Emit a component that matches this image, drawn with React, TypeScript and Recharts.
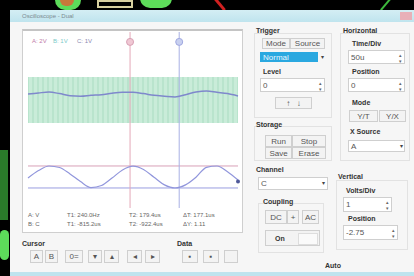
import {
  ComposedChart,
  Area,
  Line,
  XAxis,
  YAxis,
  ReferenceLine,
  ReferenceDot,
} from "recharts";

// time axis in µs (10 div x 50u), volts on a -4..4 scale
const times = [0, 25, 50, 75, 100, 125, 150, 175, 200, 225, 250, 275, 300, 325, 350, 375, 400, 425, 450, 475, 500];
const traceA = [1.18, 1.23, 1.27, 1.2, 1.1, 1.08, 1.12, 1.15, 1.22, 1.26, 1.26, 1.2, 1.12, 1.08, 1.05, 1.15, 1.27, 1.32, 1.26, 1.2, 1.09];
const traceB = [-2.64, -2.3, -2.09, -2.16, -2.45, -2.8, -3.07, -2.98, -2.64, -2.27, -2.1, -2.25, -2.6, -2.95, -3.09, -2.95, -2.6, -2.15, -2.09, -2.35, -2.73];
const bandLow = -0.14;
const bandHigh = 1.95;
const cursors = [243, 360];
const levels = [-2.09, -3.09];
const legend = ["A: 2V", "B: 1V", "C: 1V"];
const readRow1 = ["A: V", "T1: 240.0Hz", "T2: 179.4us", "ΔT: 177.1us"];
const readRow2 = ["B: C", "T1: -815.2us", "T2: -922.4us", "ΔY: 1.11"];

const data = times.map((t, i) => ({ t, a: traceA[i], b: traceB[i], band: [bandLow, bandHigh] }));

const font = "'Liberation Sans', Arial, sans-serif";

function Txt({ x, y, children, bold = false, color = "#444", size = 8 }: any) {
  return (
    <div style={{ position: "absolute", left: x, top: y, fontSize: size, fontWeight: bold ? 700 : 400, color, whiteSpace: "nowrap", lineHeight: 1 }}>
      {children}
    </div>
  );
}

function Box({ x, y, w, h, children, bg = "#f3f3f3", border = "#cfcfcf", color = "#555", align = "center", spin = false }: any) {
  return (
    <div
      style={{
        position: "absolute", left: x, top: y, width: w, height: h, boxSizing: "border-box",
        background: bg, border: `1px solid ${border}`, color, fontSize: 8, display: "flex",
        alignItems: "center", justifyContent: align, paddingLeft: align === "center" ? 0 : 2,
      }}
    >
      {children}
      {spin && <div style={{ position: "absolute", right: 1, top: 1, bottom: 1, width: 6, fontSize: 5, color: "#666", display: "flex", flexDirection: "column", justifyContent: "space-around", alignItems: "center" }}><span>▴</span><span>▾</span></div>}
    </div>
  );
}

function Group({ x, y, w, h }: any) {
  return <div style={{ position: "absolute", left: x, top: y, width: w, height: h, border: "1px solid #e2e2e2", boxSizing: "border-box" }} />;
}

export default function App() {
  return (
    <div style={{ position: "fixed", left: 0, top: 0, width: 414, height: 276, overflow: "hidden", background: "#000", fontFamily: font }}>
      {/* pcb background bits */}
      <div style={{ position: "absolute", left: 55, top: -10, width: 26, height: 20, borderRadius: 13, background: "#5ddc5a" }} />
      <div style={{ position: "absolute", left: 60, top: -6, width: 14, height: 12, borderRadius: 7, background: "#c8783a" }} />
      <div style={{ position: "absolute", left: 97, top: 0, width: 36, height: 8, border: "2px solid #d8d0a0", boxSizing: "border-box" }} />
      <div style={{ position: "absolute", left: 140, top: -12, width: 32, height: 20, borderRadius: 16, background: "#5ddc5a" }} />
      <div style={{ position: "absolute", left: 218, top: -4, width: 3, height: 16, background: "#d02020", transform: "rotate(-40deg)" }} />
      <div style={{ position: "absolute", left: 385, top: -4, width: 2, height: 16, background: "#3cb83c", transform: "rotate(40deg)" }} />
      <div style={{ position: "absolute", left: 0, top: 150, width: 8, height: 70, background: "#2a7a2a" }} />
      <div style={{ position: "absolute", left: 0, top: 230, width: 9, height: 30, borderRadius: 5, background: "#5ddc5a" }} />

      {/* window */}
      <div style={{ position: "absolute", left: 10, top: 10, width: 404, height: 266, background: "#f6f6f6" }}>
        <div style={{ position: "absolute", left: 0, top: 0, width: 404, height: 12, background: "linear-gradient(#d4eef4, #bfe4ee)" }} />
        <Txt x={12} y={3} size={6} color="#7a8a90">Oscilloscope - Dual</Txt>
        <div style={{ position: "absolute", left: 390, top: 2, width: 12, height: 8, background: "#e8b0b8" }} />
        <div style={{ position: "absolute", left: 0, top: 262, width: 404, height: 4, background: "#bfe4ee" }} />
      </div>

      {/* plot panel */}
      <div style={{ position: "absolute", left: 22, top: 29, width: 221, height: 204, background: "#fff", border: "1px solid #cfcfcf", borderTop: "2px solid #c4c4c4", boxSizing: "border-box" }} />
      <div style={{ position: "absolute", left: 22, top: 30 }}>
        <ComposedChart width={221} height={180} data={data} margin={{ top: 2, right: 5, bottom: 2, left: 6 }}>
          <defs>
            <pattern id="stripes" width="5" height="10" patternUnits="userSpaceOnUse">
              <rect width="5" height="10" fill="#c9ecd9" />
              <line x1="1" y1="0" x2="1" y2="10" stroke="#a9dcc2" strokeWidth="1" />
            </pattern>
          </defs>
          <XAxis dataKey="t" type="number" domain={[0, 500]} hide />
          <YAxis type="number" domain={[-4, 4]} hide />
          <Area dataKey="band" type="linear" stroke="none" fill="url(#stripes)" fillOpacity={1} isAnimationActive={false} />
          <ReferenceLine y={levels[0]} stroke="#d8a0b8" strokeWidth={1} />
          <ReferenceLine y={levels[1]} stroke="#9a9ee0" strokeWidth={1} />
          <ReferenceLine x={cursors[0]} stroke="#e4a8b8" strokeWidth={1} />
          <ReferenceLine x={cursors[1]} stroke="#a8b0e4" strokeWidth={1} />
          <ReferenceDot x={cursors[0]} y={3.55} r={3.5} fill="#f0c8d4" stroke="#d8a0b4" />
          <ReferenceDot x={cursors[1]} y={3.55} r={3.5} fill="#c8d0f0" stroke="#a0a8e0" />
          <Line dataKey="a" type="monotone" stroke="#7f88cc" strokeWidth={1.5} dot={false} isAnimationActive={false} />
          <Line dataKey="b" type="monotone" stroke="#9196dc" strokeWidth={1.2} dot={false} isAnimationActive={false} />
          <ReferenceDot x={500} y={-2.8} r={2} fill="#505a9a" stroke="none" />
        </ComposedChart>
      </div>
      <Txt x={32} y={38} size={6} color="#c07aa8">{legend[0]}</Txt>
      <Txt x={53} y={38} size={6} color="#7ccac8">{legend[1]}</Txt>
      <Txt x={77} y={38} size={6} color="#8a8ab0">{legend[2]}</Txt>
      {readRow1.map((s, i) => <Txt key={"r1" + i} x={[28, 67, 129, 183][i]} y={212} size={6} color="#666">{s}</Txt>)}
      {readRow2.map((s, i) => <Txt key={"r2" + i} x={[28, 67, 129, 183][i]} y={221} size={6} color="#666">{s}</Txt>)}

      {/* cursor / data */}
      <Txt x={22} y={240} bold size={7} color="#333">Cursor</Txt>
      <Box x={30} y={250} w={13} h={13}>A</Box>
      <Box x={45} y={250} w={13} h={13}>B</Box>
      <Box x={65} y={250} w={18} h={13}>0=</Box>
      <Box x={88} y={250} w={14} h={13}>▾</Box>
      <Box x={104} y={250} w={15} h={13}>▴</Box>
      <Box x={127} y={250} w={15} h={13}>◂</Box>
      <Box x={145} y={250} w={15} h={13}>▸</Box>
      <Txt x={177} y={240} bold size={7} color="#333">Data</Txt>
      <Box x={182} y={250} w={16} h={13}>▪</Box>
      <Box x={203} y={250} w={16} h={13}>▪</Box>
      <Box x={224} y={250} w={14} h={13} color="#bbb"> </Box>

      {/* trigger */}
      <Group x={254} y={33} w={78} h={85} />
      <Txt x={256} y={27} bold size={7} color="#333">Trigger</Txt>
      <Box x={262} y={38} w={28} h={11}>Mode</Box>
      <Box x={290} y={38} w={35} h={11}>Source</Box>
      <Box x={260} y={52} w={58} h={10} bg="#2aa8e0" border="#2aa8e0" color="#e8f6ff" align="flex-start">Normal</Box>
      <Txt x={321} y={54} size={6}>▾</Txt>
      <Txt x={263} y={68} bold size={7} color="#333">Level</Txt>
      <Box x={260} y={78} w={65} h={14} bg="#fff" align="flex-start" spin>0</Box>
      <Box x={275} y={97} w={37} h={12}>↑&nbsp;&nbsp;&nbsp;↓</Box>

      {/* storage */}
      <Group x={254} y={126} w={78} h={35} />
      <Txt x={256} y={121} bold size={7} color="#333">Storage</Txt>
      <Box x={265} y={135} w={27} h={12}>Run</Box>
      <Box x={292} y={135} w={34} h={12}>Stop</Box>
      <Box x={265} y={147} w={27} h={12}>Save</Box>
      <Box x={292} y={147} w={34} h={12}>Erase</Box>

      {/* channel */}
      <Txt x={256} y={166} bold size={7} color="#333">Channel</Txt>
      <Box x={258} y={177} w={70} h={13} bg="#fff" align="flex-start">C</Box>
      <Txt x={322} y={180} size={6}>▾</Txt>
      <Group x={258} y={203} w={66} h={50} />
      <Txt x={263} y={198} bold size={7} color="#333">Coupling</Txt>
      <Box x={265} y={210} w={22} h={14}>DC</Box>
      <Box x={287} y={210} w={12} h={14}>+</Box>
      <Box x={302} y={210} w={17} h={14}>AC</Box>
      <Box x={265} y={230} w={55} h={16}> </Box>
      <Txt x={275} y={235} bold size={7} color="#333">On</Txt>
      <div style={{ position: "absolute", left: 298, top: 233, width: 18, height: 10, border: "1px solid #ddd", background: "#fafafa" }} />

      {/* horizontal */}
      <Group x={340} y={33} w={70} h={128} />
      <Txt x={343} y={27} bold size={7} color="#333">Horizontal</Txt>
      <Txt x={352} y={40} bold size={7} color="#333">Time/Div</Txt>
      <Box x={348} y={50} w={57} h={14} bg="#fff" align="flex-start" spin>50u</Box>
      <Txt x={352} y={68} bold size={7} color="#333">Position</Txt>
      <Box x={348} y={78} w={57} h={14} bg="#fff" align="flex-start" spin>0</Box>
      <Txt x={352} y={99} bold size={7} color="#333">Mode</Txt>
      <Box x={349} y={110} w={29} h={12}>Y/T</Box>
      <Box x={379} y={110} w={27} h={12}>Y/X</Box>
      <Txt x={350} y={128} bold size={7} color="#333">X Source</Txt>
      <Box x={348} y={140} w={57} h={12} bg="#fff" align="flex-start">A</Box>
      <Txt x={400} y={143} size={6}>▾</Txt>

      {/* vertical */}
      <Group x={336} y={180} w={72} h={70} />
      <Txt x={338} y={173} bold size={7} color="#333">Vertical</Txt>
      <Txt x={346} y={187} bold size={7} color="#333">Volts/Div</Txt>
      <Box x={343} y={197} w={49} h={15} bg="#fff" align="flex-start" spin>1</Box>
      <Txt x={348} y={215} bold size={7} color="#333">Position</Txt>
      <Box x={343} y={225} w={55} h={15} bg="#fff" align="flex-start" spin>-2.75</Box>

      <Txt x={325} y={262} bold size={7} color="#333">Auto</Txt>
    </div>
  );
}
